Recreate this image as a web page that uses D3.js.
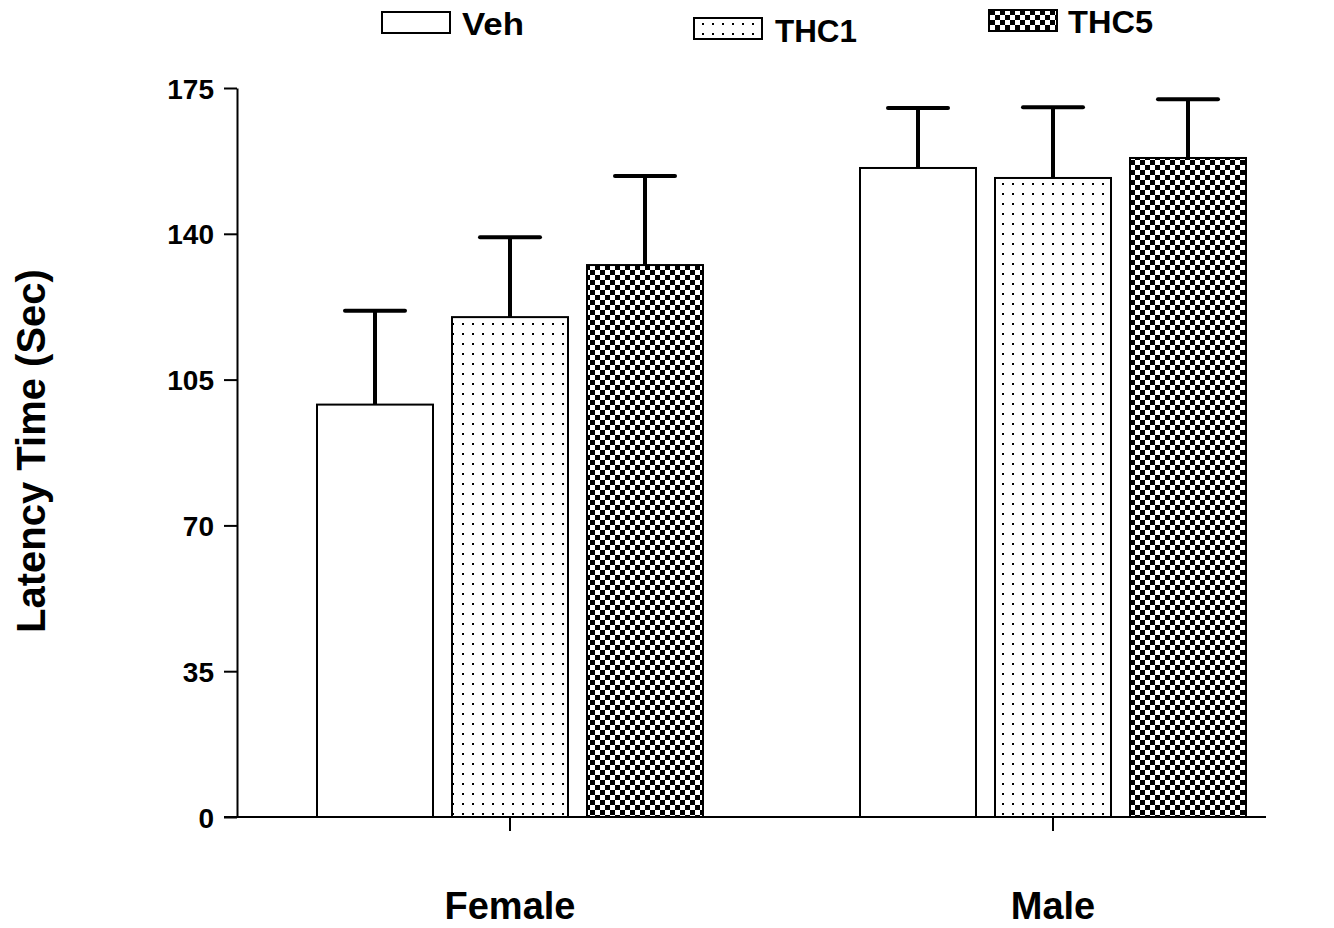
<!DOCTYPE html>
<html>
<head>
<meta charset="utf-8">
<script src="https://cdn.jsdelivr.net/npm/d3@7"></script>
<style>
  body { margin: 0; background: #fff; }
  svg text { font-family: "Liberation Sans", Arial, sans-serif; font-weight: bold; fill: #000; }
</style>
</head>
<body>
<svg id="chart" width="1334" height="928"></svg>
<script>
// data
const GROUPS = ["Female", "Male"];
const TREATMENTS = ["Veh", "THC1", "THC5"];
const MEANS = {
    Female: [99, 120, 132.5],
    Male:   [155.8, 153.4, 158.2],
};
const ERRORS = {
    Female: [22.5, 19.2, 21.4],
    Male:   [14.4, 17.0, 14.1],
};
const Y_TICKS = [0, 35, 70, 105, 140, 175];

const svg = d3.select("#chart");

// ── Patterns ───────────────────────────────────────────────────────────────
const defs = svg.append("defs");
const dots = defs.append("pattern").attr("id", "dots")
    .attr("patternUnits", "userSpaceOnUse").attr("width", 10).attr("height", 10);
dots.append("rect").attr("width", 10).attr("height", 10).attr("fill", "#fff");
dots.append("rect").attr("x", 2).attr("y", 3).attr("width", 2).attr("height", 2).attr("fill", "#000");

const checks = defs.append("pattern").attr("id", "checks")
    .attr("patternUnits", "userSpaceOnUse").attr("width", 10).attr("height", 10);
checks.append("rect").attr("width", 10).attr("height", 10).attr("fill", "#fff");
checks.append("rect").attr("width", 5).attr("height", 5).attr("fill", "#000");
checks.append("rect").attr("x", 5).attr("y", 5).attr("width", 5).attr("height", 5).attr("fill", "#000");

const FILLS = { Veh: "#fff", THC1: "url(#dots)", THC5: "url(#checks)" };

// ── Scales ─────────────────────────────────────────────────────────────────
const axisX = 237;
const y = d3.scaleLinear().domain([0, 175]).range([817, 88]);
const groupCenter = { Female: 510, Male: 1053 };
const barW = 116, barGap = 19;

// ── Axes ───────────────────────────────────────────────────────────────────
const yAxis = svg.append("g")
    .attr("transform", `translate(${axisX},0)`)
    .call(d3.axisLeft(y).tickValues(Y_TICKS).tickSize(13).tickPadding(10).tickSizeOuter(0));
yAxis.select(".domain").attr("stroke", "#000").attr("stroke-width", 2);
yAxis.selectAll(".tick line").attr("stroke-width", 2);
yAxis.selectAll(".tick text").style("font-size", "28px").attr("font-family", null).attr("dy", "0.36em");

// x baseline
svg.append("line")
    .attr("x1", 224).attr("x2", 1266).attr("y1", y(0)).attr("y2", y(0))
    .attr("stroke", "#000").attr("stroke-width", 2);

GROUPS.forEach(g => {
    svg.append("line")
        .attr("x1", groupCenter[g]).attr("x2", groupCenter[g])
        .attr("y1", y(0)).attr("y2", y(0) + 14)
        .attr("stroke", "#000").attr("stroke-width", 2);
    svg.append("text")
        .attr("x", groupCenter[g]).attr("y", 919)
        .attr("text-anchor", "middle")
        .style("font-size", "38px")
        .text(g);
});

svg.append("text")
    .attr("transform", "translate(45,451) rotate(-90)")
    .attr("text-anchor", "middle")
    .style("font-size", "40px")
    .text("Latency Time (Sec)");

// ── Bars + error bars ──────────────────────────────────────────────────────
GROUPS.forEach(g => {
    const x1 = d3.scaleBand().domain(TREATMENTS)
        .range([groupCenter[g] - 1.5 * barW - barGap, groupCenter[g] + 1.5 * barW + barGap])
        .paddingInner(barGap / (barW + barGap));
    TREATMENTS.forEach((t, i) => {
        const mean = MEANS[g][i], err = ERRORS[g][i];
        const bx = x1(t), cx = bx + x1.bandwidth() / 2;
        svg.append("line")
            .attr("x1", cx).attr("x2", cx)
            .attr("y1", y(mean)).attr("y2", y(mean + err))
            .attr("stroke", "#000").attr("stroke-width", 4);
        svg.append("line")
            .attr("x1", cx - 30).attr("x2", cx + 30)
            .attr("y1", y(mean + err)).attr("y2", y(mean + err))
            .attr("stroke", "#000").attr("stroke-width", 4).attr("stroke-linecap", "round");
        svg.append("rect")
            .attr("x", bx).attr("y", y(mean))
            .attr("width", x1.bandwidth()).attr("height", y(0) - y(mean))
            .attr("fill", FILLS[t]).attr("stroke", "#000").attr("stroke-width", 2);
    });
});

// ── Legend ─────────────────────────────────────────────────────────────────
const LEGEND_POS = [
    { x: 382, y: 12, tx: 462, ty: 35 },
    { x: 694, y: 18, tx: 775, ty: 42 },
    { x: 989, y: 10, tx: 1068, ty: 33 },
];
TREATMENTS.forEach((t, i) => {
    const p = LEGEND_POS[i];
    svg.append("rect")
        .attr("x", p.x).attr("y", p.y).attr("width", 68).attr("height", 21)
        .attr("fill", FILLS[t]).attr("stroke", "#000").attr("stroke-width", 2);
    svg.append("text")
        .attr("x", p.tx).attr("y", p.ty)
        .style("font-size", "31px")
        .attr("textLength", t === "Veh" ? 62 : (t === "THC1" ? 82 : 85))
        .attr("lengthAdjust", "spacingAndGlyphs")
        .text(t);
});
</script>
</body>
</html>
